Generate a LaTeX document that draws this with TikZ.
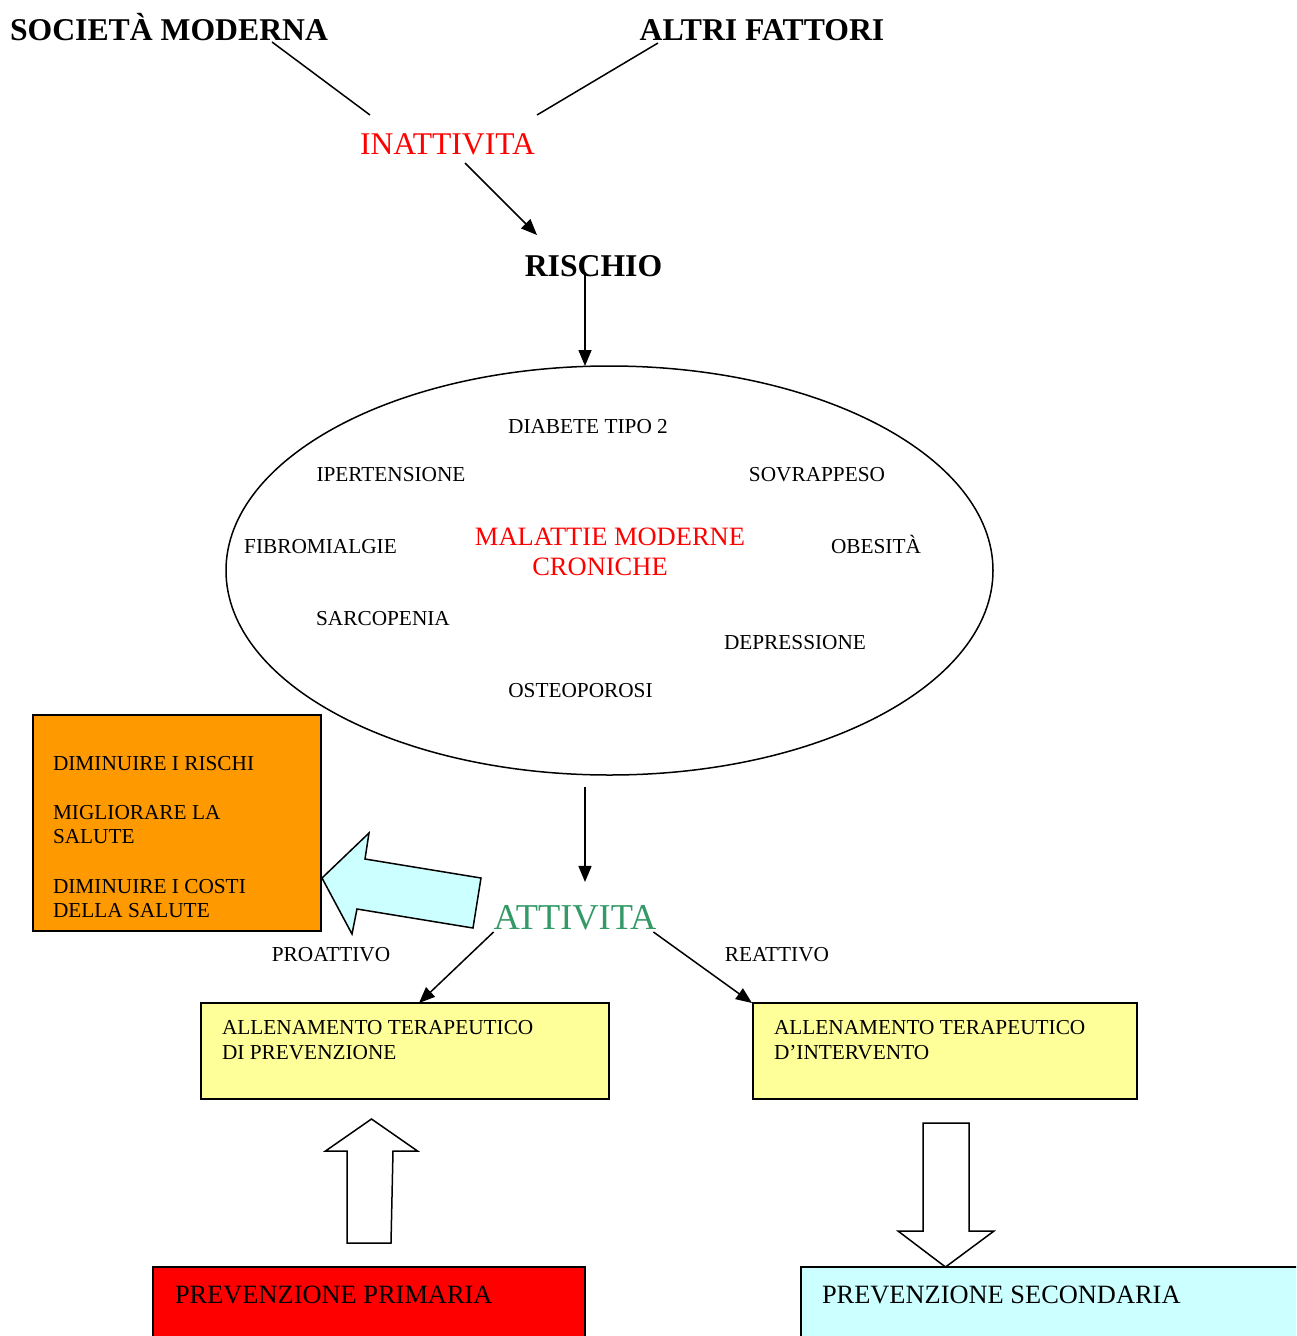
\documentclass[tikz,border=0pt]{standalone}
\usepackage{fontspec}
\setmainfont{Liberation Serif}
\usepackage{tikz}
\usetikzlibrary{shapes.geometric,arrows.meta,positioning,calc}
\definecolor{Inatt}{HTML}{FF0000}
\definecolor{Attiv}{HTML}{339966}
\definecolor{Goal}{HTML}{FF9900}
\definecolor{Train}{HTML}{FFFF99}
\definecolor{Sky}{HTML}{CCFFFF}

\begin{document}
\begin{tikzpicture}[x=1pt, y=-1pt, line width=1.5pt,
  every node/.style={inner sep=0pt, outer sep=0pt},
  title/.style={font=\fontsize{31.7}{36}\selectfont\bfseries, anchor=base},
  small/.style={font=\fontsize{21.3}{24}\selectfont, anchor=base},
  mid/.style={font=\fontsize{26.4}{30}\selectfont, anchor=base},
  box/.style={draw, rectangle, line width=1.5pt},
  arr/.style={-{Triangle[length=16pt,width=13pt]}}]
  \useasboundingbox (0,0) rectangle (1296,1336);
  \clip (0,0) rectangle (1296,1336);

  % causes
  \node[title] (soc) at (169,40) {SOCIETÀ MODERNA};
  \node[title] (altri) at (762,40) {ALTRI FATTORI};
  \node[title, font=\fontsize{31.6}{36}\selectfont, text=Inatt] (inatt) at (447.5,154) {INATTIVITA};
  \node[title] (risk) at (593.5,276) {RISCHIO};
  \draw ($(soc.base)+(103,2)$) -- ($(inatt.base)+(-77.5,-39)$);
  \draw ($(altri.base)+(-104,3)$) -- ($(inatt.base)+(89.5,-39)$);
  \draw[arr] ($(inatt.base)+(17.5,9)$) -- ($(risk.base)+(-56.5,-41)$);

  % diseases
  \node[draw, ellipse, minimum width=767, minimum height=409] (mal) at (609.5,570.5) {};
  \draw[arr] ($(risk.base)+(-8.5,-4)$) coordinate (r1) -- (r1 |- mal.north);
  \node[mid, font=\fontsize{26.5}{30}\selectfont, text=Inatt] (mal1) at (610,545) {MALATTIE MODERNE};
  \node[mid, font=\fontsize{26.5}{30}\selectfont, text=Inatt] (mal2) at (600,575) {CRONICHE};
  \node[small] (diab) at (588,433) {DIABETE TIPO 2};
  \node[small] (iper) at (391,481) {IPERTENSIONE};
  \node[small] (sovr) at (817,481) {SOVRAPPESO};
  \node[small] (fibr) at (320.5,553) {FIBROMIALGIE};
  \node[small] (obes) at (876,553) {OBESITÀ};
  \node[small] (sarc) at (383,625) {SARCOPENIA};
  \node[small] (depr) at (795,649) {DEPRESSIONE};
  \node[small] (oste) at (580.5,697) {OSTEOPOROSI};

  % activity
  \node[mid, font=\fontsize{36.4}{40}\selectfont, text=Attiv] (act) at (575,929) {ATTIVITA};
  \draw[arr] ($(mal.south)+(-24.5,12)$) -- ($(act.north)+(10,-23)$);

  \node[box, fill=Goal, minimum width=288, minimum height=216] (goal) at (177,823) {};
  \node[small, anchor=base west, align=left] (goaltxt) at (53,917)
    {DIMINUIRE I RISCHI\\[25pt]MIGLIORARE LA\\SALUTE\\[26pt]DIMINUIRE I COSTI\\DELLA SALUTE};
  \draw[fill=Sky] (322,878) -- (369,833) -- (365,859) -- (481,878) -- (473,928)
    -- (357,909) -- (352,934) -- cycle;

  \node[small] (pro) at (331,961) {PROATTIVO};
  \node[small] (rea) at (777,961) {REATTIVO};

  % training
  \node[box, fill=Train, minimum width=408, minimum height=96] (prev) at (405,1051) {};
  \node[box, fill=Train, minimum width=384, minimum height=96] (intv) at (945,1051) {};
  \node[small, anchor=base west, align=left] (prevtxt) at ($(prev.north west)+(21,56)$)
    {ALLENAMENTO TERAPEUTICO\\[1pt]DI PREVENZIONE};
  \node[small, anchor=base west, align=left] (intvtxt) at ($(intv.north west)+(21,56)$)
    {ALLENAMENTO TERAPEUTICO\\[1pt]D’INTERVENTO};
  \draw[arr] ($(act.base west)+(0,3)$) -- ($(prev.north)+(14,0)$);
  \draw[arr] ($(act.base east)+(-3,3)$) -- ($(intv.north west)+(-1,0)$);

  % prevention
  \node[box, fill=Inatt, minimum width=432, minimum height=100, anchor=north west] (prim) at (153,1267) {};
  \node[box, fill=Sky, minimum width=509, minimum height=100, anchor=north west] (sec) at (801,1267) {};
  \node[mid, anchor=base west] (primtxt) at ($(prim.north west)+(22,36)$) {PREVENZIONE PRIMARIA};
  \node[mid, anchor=base west] (sectxt) at ($(sec.north west)+(21,36)$) {PREVENZIONE SECONDARIA};
  \draw[fill=white] (371.5,1119) -- (417.5,1151) -- (393,1151) -- (391,1243) -- (347,1243)
    -- (347,1151) -- (325.5,1151) -- cycle;
  \draw[fill=white] (923,1123) -- (969,1123) -- (969,1231) -- (994,1231) -- (945.5,1267)
    -- (898,1231) -- (923,1231) -- cycle;
\end{tikzpicture}
\end{document}
